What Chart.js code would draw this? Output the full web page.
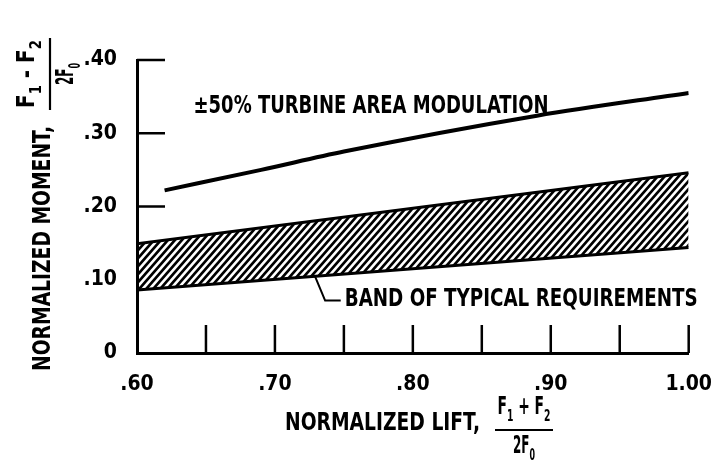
<!DOCTYPE html>
<html>
<head>
<meta charset="utf-8">
<script src="https://cdn.jsdelivr.net/npm/chart.js@4"></script>
<style>
html, body { margin: 0; padding: 0; background: #ffffff; }
#wrap { width: 723px; height: 472px; position: relative; background: #ffffff; }
canvas { display: block; }
</style>
</head>
<body>
<div id="wrap"><canvas id="c" width="723" height="472"></canvas></div>
<script>
// ---------- data ----------
const lineX = [0.62, 0.69, 0.75, 0.89, 1.00];
const lineY = [0.222, 0.250, 0.275, 0.324, 0.355];

const bandX = [0.60, 1.00];
const bandLower = [0.086, 0.144];
const bandUpper = [0.149, 0.246];

const xLabelValues = [0.60, 0.70, 0.80, 0.90, 1.00];
const xTickLabels = ['.60', '.70', '.80', '.90', '1.00'];
const yLabelValues = [0, 0.10, 0.20, 0.30, 0.40];
const yTickLabels = ['0', '.10', '.20', '.30', '.40'];
const yTickMarks = [0.20, 0.30, 0.40];

const lineLabel = '\u00B150% TURBINE AREA MODULATION';
const lineLabelAt = [0.641, 0.336];
const bandLabel = 'BAND OF TYPICAL REQUIREMENTS';
const bandLabelAt = [0.7506, 0.072];
const leaderX = [0.729, 0.7364, 0.7477];
const leaderY = [0.105, 0.0716, 0.0718];

const xTitle = 'NORMALIZED LIFT,';
const yTitle = 'NORMALIZED MOMENT,';
const xFracNum = [['F', 0], ['1', 1], [' + ', 0], ['F', 0], ['2', 1]];
const yFracNum = [['F', 0], ['1', 1], [' - ', 0], ['F', 0], ['2', 1]];
const fracDen = [['2F', 0], ['0', 1]];

// ---------- styling ----------
const FONT = '"Liberation Sans Narrow", "DejaVu Sans Condensed", "Arial Narrow", "Liberation Sans", Arial, sans-serif';
const INK = '#000000';

function makeHatch() {
  const w = 7, h = 8;
  const c = document.createElement('canvas');
  c.width = w; c.height = h;
  const g = c.getContext('2d');
  g.strokeStyle = INK;
  g.lineWidth = 2.7;
  g.lineCap = 'square';
  g.beginPath();
  g.moveTo(-w, h); g.lineTo(w, -h);
  g.moveTo(0, h); g.lineTo(w, 0);
  g.moveTo(0, 2 * h); g.lineTo(2 * w, 0);
  g.stroke();
  return g.createPattern(c, 'repeat');
}

function pts(xs, ys) { return xs.map((x, i) => ({ x: x, y: ys[i] })); }

function labelFor(values, labels, v) {
  for (let i = 0; i < values.length; i++) if (Math.abs(values[i] - v) < 1e-6) return labels[i];
  return '';
}

// run of text pieces: [text, isSub]
function runWidth(ctx, parts, size, subSize) {
  let w = 0;
  parts.forEach(p => {
    ctx.font = 'bold ' + (p[1] ? subSize : size) + 'px ' + FONT;
    w += ctx.measureText(p[0]).width;
  });
  return w;
}
function drawRun(ctx, parts, x, y, size, subSize, subDrop, targetW) {
  const natural = runWidth(ctx, parts, size, subSize);
  const sx = targetW ? targetW / natural : 1;
  ctx.save();
  ctx.translate(x, y);
  ctx.scale(sx, 1);
  let cx = 0;
  parts.forEach(p => {
    ctx.font = 'bold ' + (p[1] ? subSize : size) + 'px ' + FONT;
    ctx.fillText(p[0], cx, p[1] ? subDrop : 0);
    cx += ctx.measureText(p[0]).width;
  });
  ctx.restore();
}
function drawFraction(ctx, cx, num, den, barW, numW, denW) {
  // baseline of surrounding text is y = 0, bar sits on it
  ctx.save();
  ctx.fillStyle = INK;
  ctx.strokeStyle = INK;
  ctx.lineWidth = 2.2;
  ctx.beginPath();
  ctx.moveTo(cx - barW / 2, 0);
  ctx.lineTo(cx + barW / 2, 0);
  ctx.stroke();
  ctx.textBaseline = 'alphabetic';
  drawRun(ctx, num, cx - numW / 2, -16, 24, 16, 7, numW);
  drawRun(ctx, den, cx - denW / 2, 23, 24, 16, 7, denW);
  ctx.restore();
}

const decor = {
  id: 'decor',
  afterDatasetsDraw(chart) {
    const ctx = chart.ctx;
    const { left, bottom } = chart.chartArea;
    const xs = chart.scales.x, ys = chart.scales.y;
    ctx.save();
    ctx.strokeStyle = INK;
    ctx.lineWidth = 2.5;
    ctx.lineCap = 'butt';
    ctx.beginPath();
    xs.ticks.forEach(t => {
      if (t.value <= xs.min + 1e-9) return;
      const px = xs.getPixelForValue(t.value);
      ctx.moveTo(px, bottom);
      ctx.lineTo(px, bottom - 28);
    });
    yTickMarks.forEach(v => {
      const py = ys.getPixelForValue(v);
      ctx.moveTo(left, py);
      ctx.lineTo(left + 28, py);
    });
    ctx.stroke();

    // leader line for the band label
    ctx.lineWidth = 2;
    ctx.beginPath();
    leaderX.forEach((v, i) => {
      const px = xs.getPixelForValue(v), py = ys.getPixelForValue(leaderY[i]);
      if (i === 0) ctx.moveTo(px, py); else ctx.lineTo(px, py);
    });
    ctx.stroke();

    ctx.fillStyle = INK;
    ctx.textBaseline = 'middle';
    drawRun(ctx, [[lineLabel, 0]], xs.getPixelForValue(lineLabelAt[0]), ys.getPixelForValue(lineLabelAt[1]), 24, 15, 7, 355);
    drawRun(ctx, [[bandLabel, 0]], xs.getPixelForValue(bandLabelAt[0]), ys.getPixelForValue(bandLabelAt[1]), 24, 15, 7, 353);

    // x axis title
    ctx.textBaseline = 'alphabetic';
    ctx.save();
    ctx.translate(left + 148, bottom + 77);
    drawRun(ctx, [[xTitle, 0]], 0, 0, 24, 15, 7, 195);
    drawFraction(ctx, 239, xFracNum, fracDen, 58, 53, 22);
    ctx.restore();

    // y axis title (rotated, reading upward)
    ctx.save();
    ctx.translate(left - 87, bottom + 18);
    ctx.rotate(-Math.PI / 2);
    drawRun(ctx, [[yTitle, 0]], 0, 0, 24, 15, 7, 245);
    drawFraction(ctx, 297, yFracNum, fracDen, 72, 68, 22);
    ctx.restore();

    ctx.restore();
  }
};

const hatch = makeHatch();

new Chart(document.getElementById('c'), {
  type: 'line',
  data: {
    datasets: [
      {
        label: 'band lower',
        data: pts(bandX, bandLower),
        borderColor: INK,
        borderWidth: 3,
        pointRadius: 0,
        fill: false,
        tension: 0
      },
      {
        label: 'band upper',
        data: pts(bandX, bandUpper),
        borderColor: INK,
        borderWidth: 3,
        pointRadius: 0,
        fill: '-1',
        backgroundColor: hatch,
        tension: 0
      },
      {
        label: 'turbine area modulation',
        data: pts(lineX, lineY),
        borderColor: INK,
        borderWidth: 4,
        pointRadius: 0,
        fill: false,
        cubicInterpolationMode: 'monotone'
      }
    ]
  },
  options: {
    responsive: false,
    animation: false,
    devicePixelRatio: 1,
    layout: { padding: { top: 60, right: 18, bottom: 0, left: 0 } },
    plugins: { legend: { display: false }, tooltip: { enabled: false } },
    scales: {
      x: {
        type: 'linear',
        min: 0.60,
        max: 1.00,
        grid: { display: false },
        border: { display: true, color: INK, width: 3 },
        afterFit: s => { s.height = 119; },
        ticks: {
          stepSize: 0.05,
          autoSkip: false,
          maxRotation: 0,
          padding: 11,
          color: INK,
          font: { family: FONT, size: 21, weight: 'bold' },
          callback: v => labelFor(xLabelValues, xTickLabels, v)
        }
      },
      y: {
        type: 'linear',
        min: 0,
        max: 0.40,
        grid: { display: false },
        border: { display: true, color: INK, width: 3 },
        afterFit: s => { s.width = 137; },
        ticks: {
          stepSize: 0.10,
          padding: 12,
          color: INK,
          font: { family: FONT, size: 21, weight: 'bold' },
          callback: v => labelFor(yLabelValues, yTickLabels, v)
        }
      }
    }
  },
  plugins: [decor]
});
</script>
</body>
</html>
